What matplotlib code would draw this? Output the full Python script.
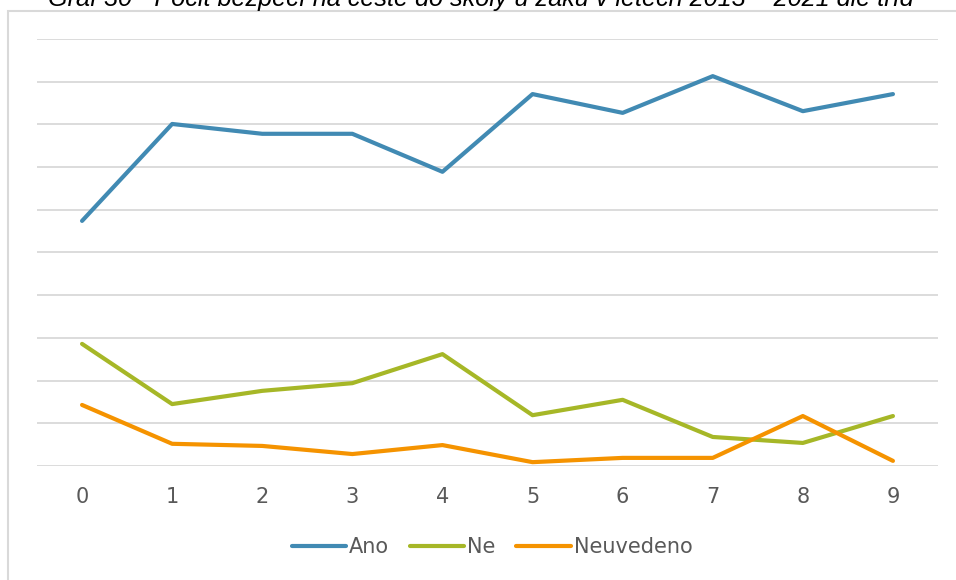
import matplotlib.pyplot as plt
from matplotlib.patches import Rectangle

# hodnoty v %
tridy = [0, 1, 2, 3, 4, 5, 6, 7, 8, 9]
ano = [57.4, 80.1, 77.8, 77.8, 68.9, 87.1, 82.7, 91.3, 83.1, 87.1]
ne = [28.6, 14.5, 17.6, 19.4, 26.2, 11.9, 15.5, 6.8, 5.4, 11.7]
neuvedeno = [14.3, 5.2, 4.7, 2.8, 4.9, 0.9, 1.9, 1.9, 11.7, 1.2]

nazev = "Graf 30 - Pocit bezpečí na cestě do školy u žáků v letech 2013 – 2021 dle tříd"

plt.rcParams['font.family'] = ['DejaVu Sans']

fig = plt.figure(figsize=(9.56, 5.8), dpi=100)

# ramecek grafu
fig.patches.append(Rectangle((8 / 956, -0.1), 1.1, 1 - 11 / 580 + 0.1,
                             transform=fig.transFigure, fill=False,
                             edgecolor='#d9d9d9', linewidth=1.5))

# nadpis je nahore oriznuty
fig.text(0.503, 1 - 6 / 580, nazev, ha='center', va='baseline',
         fontsize=18.2, style='italic', family='Liberation Sans', color='black')

ax = fig.add_axes([37 / 956, 1 - 466 / 580, (938 - 37) / 956, (466 - 39) / 580])
ax.plot(tridy, ano, color='#418AB3', lw=3.0, label='Ano', solid_capstyle='round')
ax.plot(tridy, ne, color='#A6B727', lw=3.0, label='Ne', solid_capstyle='round')
ax.plot(tridy, neuvedeno, color='#F59300', lw=3.0, label='Neuvedeno', solid_capstyle='round')

ax.set_xlim(-0.5, 9.5)
ax.set_ylim(0, 100)
ax.set_yticks(range(0, 101, 10))
ax.set_yticklabels([])
ax.set_xticks(tridy)
ax.grid(axis='y', color='#d9d9d9', lw=1.3)
ax.set_axisbelow(True)
for s in ax.spines.values():
    s.set_visible(False)
ax.tick_params(axis='both', length=0)
ax.tick_params(axis='x', labelsize=15, labelcolor='#595959', pad=15)

leg = fig.legend(loc='center', bbox_to_anchor=(492 / 956, 1 - 547 / 580), ncol=3,
                 frameon=False, fontsize=15, handlelength=2.6, handletextpad=0.15,
                 columnspacing=1.0, labelcolor='#595959')

fig.savefig('out.png', dpi=100)
